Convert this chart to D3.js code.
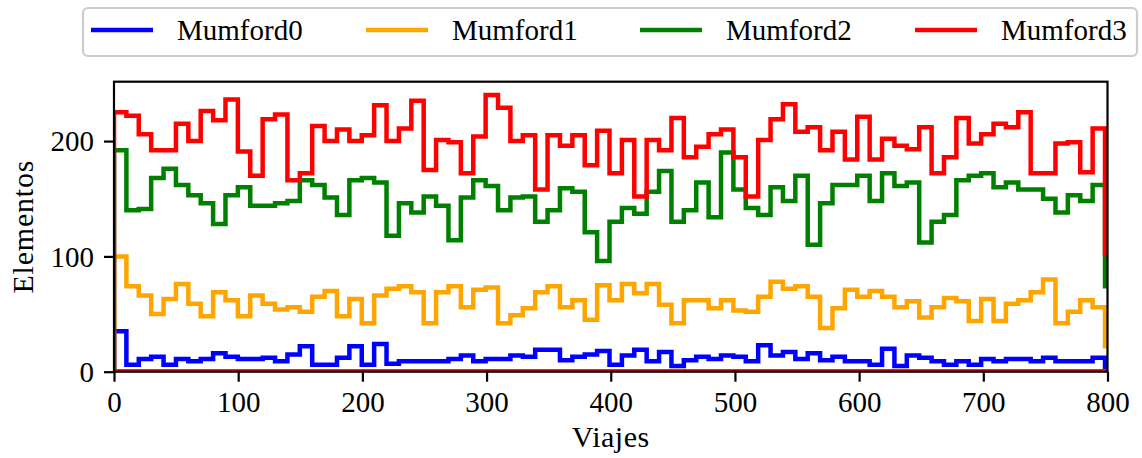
<!DOCTYPE html>
<html>
<head>
<meta charset="utf-8">
<script src="https://cdn.jsdelivr.net/npm/d3@7/dist/d3.min.js"></script>
<style>
  html, body { margin: 0; padding: 0; background: #ffffff; }
  svg { display: block; }
  text { font-family: "Liberation Serif", "Times New Roman", serif; fill: #000; }
</style>
</head>
<body>
<svg id="chart" width="1142" height="458"></svg>
<script>
// Histogram bin counts per series (one value per bin of trips)
const seriesNames = ["Mumford0", "Mumford1", "Mumford2", "Mumford3"];
const seriesColors = ["#0000ff", "#ffa500", "#008000", "#ff0000"];

const mumford0 = [35, 6, 11, 13, 6, 11, 9, 11, 16, 13,
  11, 11, 12, 9, 15, 22, 6, 6, 12, 22,
  6, 24, 7, 9, 9, 9, 9, 11, 14, 9,
  11, 11, 14, 13, 19, 19, 10, 13, 15, 18,
  6, 14, 19, 9, 17, 5, 10, 13, 11, 14,
  13, 9, 23, 14, 17, 11, 16, 10, 13, 9,
  9, 6, 20, 5, 14, 12, 9, 6, 9, 6,
  11, 9, 11, 11, 9, 12, 9, 9, 9, 12, 2];

const mumford1 = [100, 74, 66, 50, 63, 76, 59, 48, 69, 62,
  48, 66, 59, 54, 56, 52, 65, 70, 48, 63,
  42, 66, 72, 74, 69, 42, 69, 74, 56, 71,
  73, 42, 49, 55, 69, 74, 56, 62, 45, 75,
  62, 76, 68, 76, 58, 42, 62, 62, 55, 62,
  53, 52, 65, 78, 72, 74, 65, 38, 55, 71,
  65, 70, 65, 56, 61, 47, 56, 64, 61, 44,
  63, 44, 59, 62, 69, 80, 42, 52, 62, 56, 22];

const mumford2 = [192, 140, 141, 168, 176, 162, 153, 146, 128, 153,
  160, 144, 144, 146, 148, 166, 162, 151, 136, 166,
  168, 164, 118, 146, 138, 152, 144, 114, 151, 166,
  161, 140, 151, 152, 130, 140, 159, 156, 121, 96,
  130, 142, 137, 156, 174, 130, 140, 164, 134, 190,
  158, 142, 136, 160, 148, 170, 110, 146, 162, 162,
  170, 148, 172, 161, 164, 112, 130, 136, 166, 170,
  172, 160, 164, 158, 158, 150, 138, 153, 148, 162, 74];

const mumford3 = [225, 222, 206, 192, 192, 215, 200, 226, 218, 236,
  191, 170, 219, 223, 166, 172, 213, 200, 210, 200,
  205, 231, 200, 211, 235, 175, 201, 199, 172, 204,
  240, 229, 200, 205, 158, 205, 196, 205, 179, 209,
  172, 201, 152, 201, 192, 220, 186, 195, 206, 210,
  186, 152, 201, 219, 232, 208, 212, 192, 208, 184,
  221, 184, 202, 196, 193, 212, 172, 186, 220, 198,
  206, 215, 212, 225, 172, 172, 198, 199, 173, 211, 102];

const seriesValues = [mumford0, mumford1, mumford2, mumford3];

// Bin layout along the trip axis
const binStart = 0;
const binWidth = 9.975;

// Axis settings
const xDomain = [0, 800];
const yDomain = [0, 251.5];
const xTicks = [0, 100, 200, 300, 400, 500, 600, 700, 800];
const yTicks = [0, 100, 200];
const xLabel = "Viajes";
const yLabel = "Elementos";

const svg = d3.select("#chart");
const plot = { left: 114, right: 1107.5, top: 81.7, bottom: 371.7 };
const fontSize = 29;

const x = d3.scaleLinear().domain(xDomain).range([plot.left, plot.right]);
const y = d3.scaleLinear().domain(yDomain).range([plot.bottom, plot.top]);

svg.append("defs").append("clipPath").attr("id", "plotClip")
  .append("rect")
  .attr("x", plot.left).attr("y", plot.top)
  .attr("width", plot.right - plot.left).attr("height", plot.bottom - plot.top);

// Step outline of each histogram: up from the baseline, across every bin, back down and closed
const line = d3.line()
  .x(d => x(d[0]))
  .y(d => y(d[1]))
  .curve(d3.curveStepAfter);

const marks = svg.append("g").attr("clip-path", "url(#plotClip)");
seriesValues.forEach((vals, i) => {
  const n = vals.length;
  const pts = [[binStart, 0]];
  vals.forEach((v, k) => pts.push([binStart + k * binWidth, v]));
  pts.push([binStart + n * binWidth, vals[n - 1]]);
  pts.push([binStart + n * binWidth, 0]);
  marks.append("path")
    .attr("d", line(pts) + "Z")
    .attr("fill", "none")
    .attr("stroke", seriesColors[i])
    .attr("stroke-width", 4.5)
    .attr("stroke-linejoin", "miter")
    .attr("stroke-linecap", "butt");
});

// Axes
const xAxis = svg.append("g")
  .attr("transform", `translate(0,${plot.bottom})`)
  .call(d3.axisBottom(x).tickValues(xTicks).tickSize(10).tickPadding(8).tickFormat(d3.format("d")));
const yAxis = svg.append("g")
  .attr("transform", `translate(${plot.left},0)`)
  .call(d3.axisLeft(y).tickValues(yTicks).tickSize(10).tickPadding(10).tickFormat(d3.format("d")));

[xAxis, yAxis].forEach(g => {
  g.select(".domain").remove();
  g.selectAll(".tick line").attr("stroke", "#000").attr("stroke-width", 2.2);
  g.selectAll(".tick text")
    .style("font-family", '"Liberation Serif", serif')
    .attr("font-size", fontSize)
    .attr("fill", "#000");
});
xAxis.selectAll(".tick text").attr("dy", "0.78em");
yAxis.selectAll(".tick text").attr("dy", "0.34em");

// Frame around the plotting area
svg.append("rect")
  .attr("x", plot.left).attr("y", plot.top)
  .attr("width", plot.right - plot.left).attr("height", plot.bottom - plot.top)
  .attr("fill", "none").attr("stroke", "#000").attr("stroke-width", 2.2);

// Axis titles
svg.append("text")
  .attr("x", (plot.left + plot.right) / 2).attr("y", 447)
  .attr("text-anchor", "middle").attr("font-size", 30)
  .attr("letter-spacing", 0.5)
  .text(xLabel);
svg.append("text")
  .attr("transform", `translate(33,${(plot.top + plot.bottom) / 2}) rotate(-90)`)
  .attr("text-anchor", "middle").attr("font-size", 30)
  .attr("letter-spacing", 0.8)
  .text(yLabel);

// Legend
const legend = svg.append("g");
legend.append("rect")
  .attr("x", 83).attr("y", 8).attr("width", 1054).attr("height", 48)
  .attr("rx", 5).attr("ry", 5)
  .attr("fill", "#ffffff").attr("stroke", "#cccccc").attr("stroke-width", 2.2);
const legendX = [91, 366, 640, 915];
seriesNames.forEach((name, i) => {
  const lx = legendX[i];
  legend.append("line")
    .attr("x1", lx).attr("x2", lx + 62).attr("y1", 30).attr("y2", 30)
    .attr("stroke", seriesColors[i]).attr("stroke-width", 4.5);
  legend.append("text")
    .attr("x", lx + 86).attr("y", 40)
    .attr("font-size", fontSize)
    .text(name);
});
</script>
</body>
</html>
